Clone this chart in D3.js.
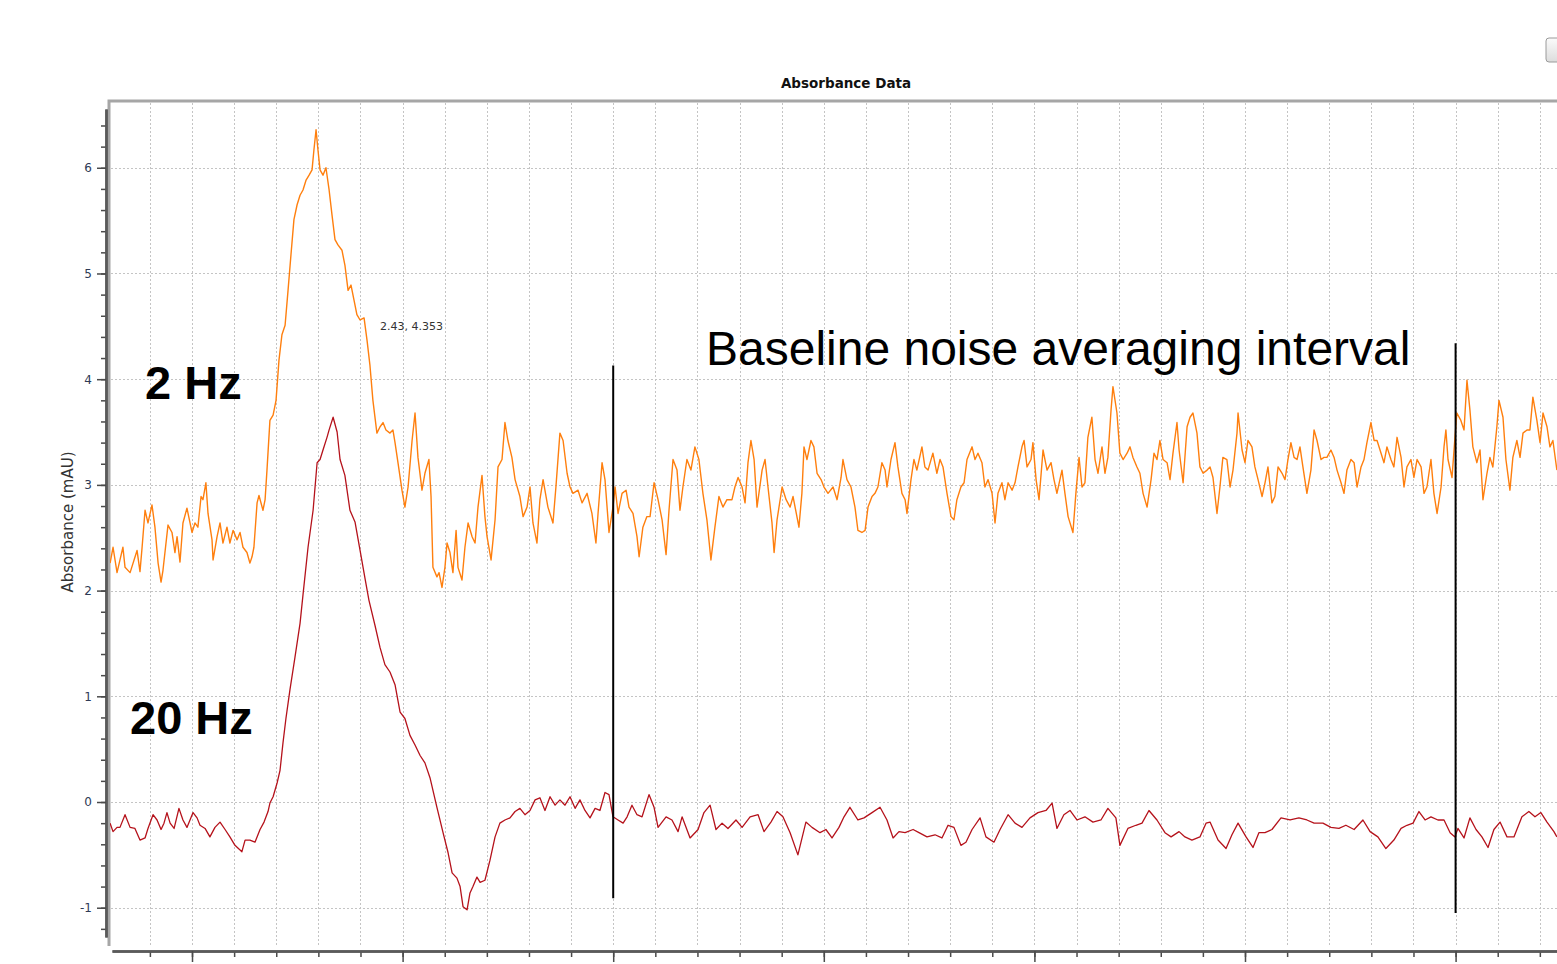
<!DOCTYPE html>
<html>
<head>
<meta charset="utf-8">
<script src="https://cdn.jsdelivr.net/npm/d3@7/dist/d3.min.js"></script>
<style>
  body { margin: 0; background: #fff; }
  svg { display: block; }
</style>
</head>
<body>
<div id="vis"></div>
<script>
// time (min), absorbance (mAU)
const trace2Hz = [
  [1.611,2.26],[1.625,2.41],[1.644,2.17],[1.658,2.29],[1.672,2.41],[1.682,2.22],[1.706,2.17],[1.739,2.38],
  [1.753,2.18],[1.763,2.41],[1.777,2.76],[1.791,2.64],[1.810,2.81],[1.824,2.60],[1.839,2.26],[1.853,2.08],
  [1.862,2.19],[1.886,2.62],[1.905,2.55],[1.919,2.36],[1.929,2.51],[1.943,2.27],[1.957,2.64],[1.976,2.78],
  [2.000,2.55],[2.014,2.64],[2.028,2.60],[2.043,2.89],[2.052,2.86],[2.066,3.02],[2.076,2.73],[2.095,2.48],
  [2.100,2.29],[2.119,2.51],[2.133,2.64],[2.147,2.45],[2.166,2.60],[2.180,2.45],[2.195,2.57],[2.214,2.48],
  [2.228,2.55],[2.242,2.41],[2.261,2.36],[2.275,2.26],[2.285,2.32],[2.294,2.41],[2.309,2.83],[2.318,2.90],
  [2.337,2.76],[2.347,2.86],[2.356,3.14],[2.370,3.61],[2.385,3.66],[2.399,3.80],[2.413,4.18],[2.427,4.42],
  [2.442,4.51],[2.456,4.84],[2.470,5.18],[2.484,5.51],[2.499,5.65],[2.513,5.74],[2.527,5.79],[2.541,5.88],
  [2.556,5.93],[2.570,5.98],[2.579,6.17],[2.589,6.36],[2.598,6.17],[2.608,5.98],[2.622,5.93],[2.636,6.00],
  [2.651,5.79],[2.665,5.55],[2.679,5.32],[2.693,5.27],[2.712,5.22],[2.726,5.08],[2.741,4.84],[2.755,4.89],
  [2.769,4.75],[2.783,4.61],[2.798,4.56],[2.817,4.58],[2.831,4.37],[2.845,4.13],[2.859,3.80],[2.878,3.49],
  [2.893,3.55],[2.907,3.59],[2.921,3.52],[2.940,3.49],[2.954,3.52],[2.964,3.40],[2.978,3.21],[2.997,2.95],
  [3.011,2.79],[3.026,2.98],[3.045,3.42],[3.059,3.68],[3.073,3.26],[3.092,2.95],[3.106,3.11],[3.125,3.24],
  [3.135,2.89],[3.144,2.22],[3.163,2.13],[3.173,2.17],[3.187,2.03],[3.201,2.22],[3.211,2.45],[3.225,2.36],
  [3.239,2.17],[3.254,2.57],[3.263,2.22],[3.282,2.10],[3.296,2.41],[3.311,2.64],[3.330,2.51],[3.344,2.45],
  [3.358,2.79],[3.377,3.09],[3.391,2.70],[3.401,2.51],[3.420,2.29],[3.439,2.67],[3.453,3.17],[3.472,3.24],
  [3.486,3.59],[3.500,3.42],[3.519,3.26],[3.534,3.05],[3.557,2.89],[3.572,2.70],[3.591,2.79],[3.605,2.98],
  [3.619,2.64],[3.638,2.45],[3.652,2.86],[3.667,3.05],[3.690,2.79],[3.714,2.64],[3.728,2.98],[3.747,3.49],
  [3.762,3.42],[3.781,3.11],[3.795,2.98],[3.809,2.92],[3.833,2.95],[3.852,2.83],[3.876,2.92],[3.899,2.73],
  [3.918,2.45],[3.928,2.73],[3.947,3.21],[3.961,3.05],[3.980,2.55],[3.999,2.79],[4.009,2.98],[4.023,2.73],
  [4.042,2.92],[4.061,2.95],[4.075,2.79],[4.094,2.73],[4.113,2.51],[4.123,2.32],[4.141,2.60],[4.160,2.70],
  [4.175,2.70],[4.194,3.02],[4.213,2.86],[4.232,2.67],[4.251,2.34],[4.265,2.76],[4.284,3.24],[4.303,3.14],
  [4.317,2.76],[4.331,2.98],[4.350,3.24],[4.369,3.14],[4.388,3.36],[4.407,3.24],[4.426,2.92],[4.445,2.67],
  [4.464,2.29],[4.483,2.60],[4.502,2.89],[4.521,2.79],[4.540,2.86],[4.564,2.86],[4.578,2.98],[4.593,3.07],
  [4.612,2.98],[4.626,2.83],[4.640,3.21],[4.654,3.42],[4.669,3.24],[4.683,2.79],[4.707,3.14],[4.721,3.24],
  [4.735,2.98],[4.754,2.64],[4.764,2.36],[4.778,2.67],[4.802,2.98],[4.821,2.86],[4.840,2.79],[4.854,2.89],
  [4.882,2.60],[4.896,2.92],[4.906,3.36],[4.920,3.24],[4.939,3.42],[4.953,3.36],[4.968,3.11],[4.987,3.05],
  [5.001,2.98],[5.020,2.92],[5.044,2.98],[5.063,2.86],[5.082,3.07],[5.091,3.24],[5.110,3.05],[5.129,2.98],
  [5.148,2.79],[5.162,2.57],[5.181,2.55],[5.196,2.57],[5.210,2.79],[5.229,2.89],[5.243,2.92],[5.257,2.98],
  [5.276,3.21],[5.291,3.14],[5.300,2.98],[5.319,3.24],[5.338,3.40],[5.352,3.17],[5.371,2.92],[5.386,2.86],
  [5.395,2.73],[5.414,3.05],[5.428,3.24],[5.442,3.14],[5.466,3.36],[5.480,3.17],[5.495,3.14],[5.518,3.30],
  [5.537,3.11],[5.552,3.24],[5.566,3.17],[5.585,2.92],[5.604,2.70],[5.618,2.67],[5.632,2.86],[5.651,2.98],
  [5.666,3.02],[5.680,3.24],[5.704,3.36],[5.718,3.24],[5.732,3.30],[5.751,3.21],[5.765,2.98],[5.780,3.05],
  [5.799,2.92],[5.813,2.64],[5.827,2.92],[5.846,3.02],[5.860,2.86],[5.875,3.02],[5.894,2.95],[5.908,3.02],
  [5.922,3.17],[5.941,3.36],[5.951,3.42],[5.965,3.17],[5.984,3.24],[5.993,3.40],[6.008,3.05],[6.022,2.86],
  [6.041,3.33],[6.060,3.14],[6.079,3.21],[6.093,3.05],[6.107,2.92],[6.131,3.14],[6.145,2.92],[6.160,2.70],
  [6.183,2.55],[6.197,2.92],[6.212,3.26],[6.226,2.98],[6.240,3.02],[6.254,3.45],[6.273,3.64],[6.288,3.24],
  [6.302,3.11],[6.321,3.36],[6.335,3.11],[6.349,3.26],[6.364,3.71],[6.373,3.93],[6.392,3.68],[6.406,3.30],
  [6.421,3.24],[6.440,3.30],[6.454,3.36],[6.468,3.26],[6.487,3.17],[6.501,3.11],[6.516,2.92],[6.535,2.79],
  [6.554,3.05],[6.568,3.30],[6.582,3.24],[6.596,3.42],[6.611,3.24],[6.630,3.21],[6.644,3.05],[6.658,3.30],
  [6.677,3.59],[6.687,3.33],[6.706,3.02],[6.725,3.55],[6.739,3.64],[6.753,3.68],[6.772,3.49],[6.786,3.17],
  [6.801,3.11],[6.820,3.14],[6.834,3.17],[6.848,3.07],[6.867,2.73],[6.881,2.98],[6.895,3.26],[6.914,3.24],
  [6.929,2.98],[6.943,3.14],[6.962,3.49],[6.967,3.68],[6.986,3.33],[7.000,3.21],[7.014,3.42],[7.033,3.36],
  [7.047,3.17],[7.062,3.05],[7.081,2.89],[7.095,3.02],[7.109,3.17],[7.128,2.83],[7.142,2.89],[7.157,3.17],
  [7.176,3.11],[7.190,3.05],[7.204,3.24],[7.218,3.40],[7.233,3.26],[7.247,3.24],[7.261,3.36],[7.275,3.17],
  [7.294,2.92],[7.313,3.14],[7.328,3.52],[7.342,3.42],[7.361,3.24],[7.375,3.26],[7.389,3.26],[7.408,3.33],
  [7.423,3.26],[7.437,3.14],[7.456,3.02],[7.470,2.92],[7.484,3.14],[7.503,3.24],[7.518,3.21],[7.532,2.98],
  [7.551,3.17],[7.565,3.24],[7.579,3.40],[7.598,3.59],[7.613,3.42],[7.627,3.42],[7.646,3.30],[7.660,3.21],
  [7.674,3.36],[7.693,3.24],[7.707,3.17],[7.722,3.45],[7.741,3.26],[7.755,2.98],[7.769,3.17],[7.788,3.24],
  [7.802,3.07],[7.817,3.24],[7.836,3.17],[7.850,2.92],[7.864,2.98],[7.883,3.24],[7.897,2.92],[7.912,2.73],
  [7.931,2.98],[7.945,3.36],[7.954,3.52],[7.964,3.24],[7.983,3.07],[7.997,3.45],[8.006,3.68],[8.025,3.61],
  [8.040,3.52],[8.054,3.99],[8.068,3.71],[8.082,3.36],[8.101,3.21],[8.116,3.33],[8.130,2.86],[8.149,3.11],
  [8.163,3.26],[8.177,3.17],[8.196,3.55],[8.206,3.80],[8.225,3.64],[8.239,3.24],[8.258,2.95],[8.272,3.26],
  [8.291,3.42],[8.306,3.26],[8.320,3.49],[8.339,3.52],[8.353,3.52],[8.367,3.83],[8.386,3.61],[8.401,3.40],
  [8.415,3.68],[8.434,3.55],[8.448,3.36],[8.462,3.42],[8.481,3.14]
];

const trace20Hz = [
  [1.611,-0.20],[1.625,-0.28],[1.644,-0.24],[1.658,-0.24],[1.682,-0.12],[1.706,-0.24],[1.729,-0.25],[1.753,-0.36],
  [1.777,-0.34],[1.791,-0.25],[1.815,-0.12],[1.834,-0.17],[1.853,-0.26],[1.867,-0.20],[1.881,-0.10],[1.896,-0.20],
  [1.915,-0.25],[1.938,-0.06],[1.957,-0.17],[1.976,-0.24],[2.005,-0.10],[2.024,-0.15],[2.038,-0.22],[2.062,-0.25],
  [2.085,-0.33],[2.109,-0.24],[2.133,-0.19],[2.157,-0.26],[2.180,-0.33],[2.204,-0.41],[2.237,-0.47],[2.252,-0.36],
  [2.275,-0.36],[2.299,-0.38],[2.323,-0.26],[2.342,-0.19],[2.361,-0.09],[2.370,-0.01],[2.385,0.05],[2.404,0.18],
  [2.418,0.30],[2.432,0.56],[2.446,0.79],[2.465,1.06],[2.489,1.37],[2.513,1.69],[2.527,1.96],[2.551,2.41],
  [2.575,2.76],[2.594,3.21],[2.608,3.24],[2.622,3.33],[2.641,3.45],[2.651,3.52],[2.670,3.64],[2.689,3.50],
  [2.703,3.24],[2.726,3.09],[2.750,2.76],[2.774,2.65],[2.798,2.38],[2.821,2.12],[2.840,1.91],[2.869,1.67],
  [2.893,1.46],[2.916,1.30],[2.940,1.23],[2.964,1.11],[2.988,0.85],[3.011,0.79],[3.035,0.63],[3.059,0.54],
  [3.083,0.44],[3.106,0.37],[3.130,0.23],[3.163,-0.05],[3.192,-0.29],[3.216,-0.48],[3.235,-0.67],[3.258,-0.72],
  [3.273,-0.80],[3.287,-0.99],[3.306,-1.02],[3.320,-0.86],[3.334,-0.80],[3.353,-0.71],[3.368,-0.76],[3.391,-0.74],
  [3.415,-0.55],[3.439,-0.33],[3.462,-0.20],[3.486,-0.17],[3.510,-0.15],[3.534,-0.09],[3.557,-0.06],[3.581,-0.12],
  [3.605,-0.08],[3.629,0.02],[3.652,0.04],[3.676,-0.08],[3.700,0.05],[3.724,-0.03],[3.747,0.02],[3.771,-0.03],
  [3.795,0.05],[3.819,-0.06],[3.842,0.02],[3.866,-0.08],[3.890,-0.15],[3.914,-0.06],[3.937,-0.08],[3.961,0.09],
  [3.980,0.07],[3.999,-0.14],[4.023,-0.17],[4.047,-0.20],[4.066,-0.14],[4.089,-0.03],[4.113,-0.12],[4.137,-0.14],
  [4.170,0.07],[4.194,-0.05],[4.213,-0.24],[4.251,-0.14],[4.279,-0.17],[4.308,-0.28],[4.327,-0.14],[4.365,-0.34],
  [4.403,-0.26],[4.431,-0.10],[4.460,-0.03],[4.488,-0.26],[4.517,-0.20],[4.545,-0.25],[4.583,-0.17],[4.612,-0.24],
  [4.650,-0.14],[4.688,-0.12],[4.716,-0.28],[4.749,-0.19],[4.778,-0.09],[4.806,-0.14],[4.840,-0.29],[4.877,-0.50],
  [4.915,-0.19],[4.944,-0.24],[4.982,-0.29],[5.010,-0.26],[5.039,-0.34],[5.072,-0.24],[5.096,-0.14],[5.124,-0.05],
  [5.162,-0.17],[5.191,-0.15],[5.229,-0.10],[5.267,-0.05],[5.300,-0.17],[5.329,-0.34],[5.357,-0.28],[5.386,-0.29],
  [5.424,-0.26],[5.452,-0.29],[5.490,-0.33],[5.528,-0.31],[5.561,-0.34],[5.590,-0.22],[5.618,-0.24],[5.651,-0.41],
  [5.675,-0.38],[5.704,-0.26],[5.742,-0.15],[5.770,-0.33],[5.808,-0.38],[5.837,-0.26],[5.875,-0.12],[5.908,-0.20],
  [5.941,-0.24],[5.979,-0.15],[6.017,-0.10],[6.055,-0.08],[6.084,-0.01],[6.107,-0.25],[6.140,-0.12],[6.169,-0.08],
  [6.202,-0.17],[6.240,-0.14],[6.278,-0.19],[6.316,-0.17],[6.349,-0.06],[6.387,-0.15],[6.406,-0.41],[6.444,-0.25],
  [6.482,-0.22],[6.511,-0.20],[6.544,-0.08],[6.582,-0.17],[6.620,-0.29],[6.649,-0.33],[6.687,-0.28],[6.715,-0.33],
  [6.748,-0.36],[6.786,-0.33],[6.815,-0.20],[6.834,-0.19],[6.872,-0.36],[6.910,-0.44],[6.938,-0.31],[6.967,-0.20],
  [7.005,-0.33],[7.038,-0.43],[7.066,-0.29],[7.095,-0.29],[7.128,-0.26],[7.171,-0.15],[7.214,-0.17],[7.256,-0.15],
  [7.294,-0.17],[7.328,-0.20],[7.370,-0.20],[7.408,-0.24],[7.446,-0.25],[7.479,-0.22],[7.518,-0.26],[7.560,-0.17],
  [7.594,-0.28],[7.631,-0.33],[7.669,-0.44],[7.707,-0.36],[7.741,-0.25],[7.769,-0.22],[7.798,-0.20],[7.826,-0.09],
  [7.855,-0.17],[7.883,-0.14],[7.916,-0.17],[7.945,-0.17],[7.974,-0.29],[7.997,-0.33],[8.011,-0.25],[8.040,-0.34],
  [8.068,-0.15],[8.097,-0.26],[8.125,-0.33],[8.154,-0.43],[8.182,-0.26],[8.211,-0.19],[8.244,-0.33],[8.277,-0.33],
  [8.315,-0.14],[8.348,-0.09],[8.377,-0.14],[8.405,-0.10],[8.434,-0.19],[8.467,-0.28],[8.481,-0.33]
];

const yMajorTicks = [-1, 0, 1, 2, 3, 4, 5, 6];
const yTickLabels = ["-1", "0", "1", "2", "3", "4", "5", "6"];
const xMajorTicks = [2, 3, 4, 5, 6, 7, 8];
// start/end of the noise window: time, top and bottom of the drawn bar (mAU)
const intervalMarks = [
  { t: 4.0, top: 4.13, bottom: -0.91 },
  { t: 8.0, top: 4.34, bottom: -1.05 }
];
const seriesNames = ["2 Hz", "20 Hz"];
const chartTitle = "Absorbance Data";
const yTitle = "Absorbance (mAU)";
const noteText = "Baseline noise averaging interval";
const cursorText = "2.43, 4.353";

const width = 1557, height = 964;

const svg = d3.select("#vis").append("svg")
  .attr("width", width)
  .attr("height", height)
  .style("font-family", "'Liberation Sans', Arial, sans-serif");

const x = d3.scaleLinear().domain([1.6201, 8.4815]).range([112, 1557]);
const y = d3.scaleLinear().domain([-1.277, 6.556]).range([937, 109]);

const minorX = d3.range(18, 85, 2).map(d => d / 10);
const minorY = d3.range(-12, 65, 2).map(d => d / 10);

// top-right toolbar button stub
const grad = svg.append("defs").append("linearGradient")
  .attr("id", "btn").attr("x1", 0).attr("y1", 0).attr("x2", 0).attr("y2", 1);
grad.append("stop").attr("offset", "0%").attr("stop-color", "#fbfbfb");
grad.append("stop").attr("offset", "100%").attr("stop-color", "#dcdcdc");
svg.append("rect")
  .attr("x", 1546).attr("y", 38).attr("width", 22).attr("height", 24).attr("rx", 3)
  .attr("fill", "url(#btn)").attr("stroke", "#9a9a9a");

// grid
const grid = svg.append("g").attr("stroke", "#c4c4c4").attr("stroke-width", 1)
  .attr("stroke-dasharray", "2,2");
grid.selectAll(".vgrid").data(minorX).enter().append("line")
  .attr("class", "vgrid")
  .attr("x1", d => Math.round(x(d)) + 0.5).attr("x2", d => Math.round(x(d)) + 0.5)
  .attr("y1", 103).attr("y2", 946);
grid.selectAll(".hgrid").data(yMajorTicks).enter().append("line")
  .attr("class", "hgrid")
  .attr("x1", 111).attr("x2", width)
  .attr("y1", d => Math.round(y(d)) + 0.5).attr("y2", d => Math.round(y(d)) + 0.5);

// plot frame
svg.append("path")
  .attr("d", `M109,946V101H${width}`)
  .attr("fill", "none").attr("stroke", "#a6a6a6").attr("stroke-width", 3);

// y axis
const yAxisG = svg.append("g").attr("transform", "translate(106,0)");
yAxisG.append("g")
  .call(d3.axisLeft(y).tickValues(minorY).tickSize(5).tickSizeOuter(0).tickFormat(""));
yAxisG.append("g")
  .call(d3.axisLeft(y).tickValues(yMajorTicks).tickSize(9).tickSizeOuter(0).tickPadding(5)
    .tickFormat((d, i) => yTickLabels[i]));
yAxisG.selectAll("path.domain").attr("stroke", "#5a5a5a").attr("stroke-width", 2.5);
yAxisG.selectAll(".tick line").attr("stroke", "#4a4a4a").attr("stroke-width", 1.5);
yAxisG.selectAll(".tick text")
  .attr("fill", "#2e3a55").style("font-size", "12px")
  .style("font-family", "'DejaVu Sans', sans-serif");

// x axis (no labels visible in the capture)
const xAxisG = svg.append("g").attr("transform", "translate(0,951)");
xAxisG.append("g")
  .call(d3.axisBottom(x).tickValues(minorX).tickSize(6).tickSizeOuter(0).tickFormat(""));
xAxisG.append("g")
  .call(d3.axisBottom(x).tickValues(xMajorTicks).tickSize(11).tickSizeOuter(0).tickFormat(""));
xAxisG.selectAll("path.domain").attr("stroke", "#5a5a5a").attr("stroke-width", 2.5);
xAxisG.selectAll(".tick line").attr("stroke", "#4a4a4a").attr("stroke-width", 1.5);

// traces
svg.append("clipPath").attr("id", "plotArea")
  .append("rect").attr("x", 110).attr("y", 102).attr("width", width - 110).attr("height", 845);

const line = d3.line().x(d => x(d[0])).y(d => y(d[1]));
const traces = svg.append("g").attr("clip-path", "url(#plotArea)").attr("fill", "none");
traces.append("path").datum(trace2Hz)
  .attr("d", line).attr("stroke", "#ff7f0e").attr("stroke-width", 1.4).attr("stroke-linejoin", "round");
traces.append("path").datum(trace20Hz)
  .attr("d", line).attr("stroke", "#b5121b").attr("stroke-width", 1.3).attr("stroke-linejoin", "round");

// noise interval bars
svg.selectAll(".mark").data(intervalMarks).enter().append("line")
  .attr("class", "mark")
  .attr("x1", d => x(d.t)).attr("x2", d => x(d.t))
  .attr("y1", d => y(d.top)).attr("y2", d => y(d.bottom))
  .attr("stroke", "#000").attr("stroke-width", 2);

// texts
svg.append("text")
  .attr("x", 846).attr("y", 88).attr("text-anchor", "middle")
  .style("font-family", "'DejaVu Sans', sans-serif").style("font-weight", "bold").style("font-size", "13.5px")
  .attr("fill", "#111").text(chartTitle);

svg.append("text")
  .attr("transform", "translate(73,522) rotate(-90)").attr("text-anchor", "middle")
  .style("font-family", "'DejaVu Sans', sans-serif").style("font-size", "15px")
  .attr("fill", "#333").text(yTitle);

svg.append("text")
  .attr("x", 380).attr("y", 330)
  .style("font-family", "'DejaVu Sans', sans-serif").style("font-size", "11px")
  .attr("fill", "#333").text(cursorText);

svg.append("text")
  .attr("x", 706).attr("y", 365)
  .style("font-size", "48px").attr("fill", "#000").text(noteText);

const nameSpots = [[145, 399], [130, 734]];
svg.selectAll(".series-name").data(seriesNames).enter().append("text")
  .attr("class", "series-name")
  .attr("x", (d, i) => nameSpots[i][0]).attr("y", (d, i) => nameSpots[i][1])
  .style("font-size", "47px").style("font-weight", "bold").attr("fill", "#000")
  .text(d => d);
</script>
</body>
</html>
